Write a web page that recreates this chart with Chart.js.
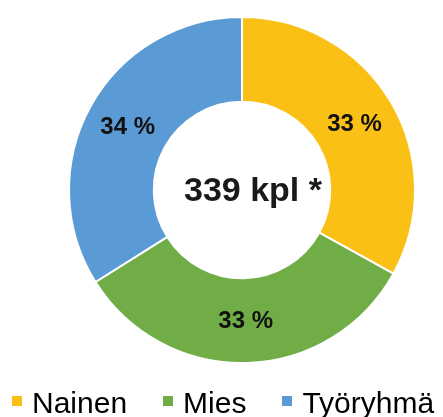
<!DOCTYPE html>
<html>
<head>
<meta charset="utf-8">
<script src="https://cdn.jsdelivr.net/npm/chart.js@4/dist/chart.umd.min.js"></script>
<style>
  html, body { margin: 0; padding: 0; background: #fff; }
  #wrap { position: relative; width: 443px; height: 417px; }
  #legend {
    position: absolute; left: 12px; top: 388px;
    display: flex; gap: 36px;
    font-family: "Liberation Sans", Arial, sans-serif; font-size: 30px; line-height: 30px; color: #000;
  }
  #legend .item { display: flex; align-items: center; }
  #legend .box { width: 10px; height: 10px; margin-right: 10px; position: relative; top: -2px; }
</style>
</head>
<body>
<div id="wrap">
  <canvas id="chart" width="443" height="417"></canvas>
  <div id="legend"></div>
</div>
<script>
// Jakauma: Nainen / Mies / Työryhmä
const labels = ['Nainen', 'Mies', 'Työryhmä'];
const counts = [112, 112, 115];
const colors = ['#FBC015', '#70AD47', '#5B9BD5'];
const total = counts.reduce((a, b) => a + b, 0);

// prosenttiluvut lohkojen keskelle + keskiteksti
const labelPlugin = {
    id: 'sliceLabels',
    afterDatasetsDraw(chart) {
        const ctx = chart.ctx;
        const meta = chart.getDatasetMeta(0);
        ctx.save();
        ctx.fillStyle = '#111';
        ctx.textAlign = 'center';
        ctx.textBaseline = 'middle';
        ctx.font = 'bold 24px "Liberation Sans", Arial, sans-serif';
        meta.data.forEach((arc, i) => {
            const p = arc.tooltipPosition();
            const pct = Math.round(counts[i] / total * 100);
            ctx.fillText(pct + ' %', p.x, p.y + 1);
        });
        const c = meta.data[0];
        ctx.fillStyle = '#1a1a1a';
        ctx.font = 'bold 34px "Liberation Sans", Arial, sans-serif';
        ctx.fillText(total + ' kpl *', c.x + 11, c.y + 2);
        ctx.restore();
    }
};

new Chart(document.getElementById('chart'), {
    type: 'doughnut',
    data: {
        labels: labels,
        datasets: [{
            data: counts,
            backgroundColor: colors,
            borderColor: '#fff',
            borderWidth: 2
        }]
    },
    options: {
        responsive: false,
        animation: false,
        radius: 173,
        cutout: '51%',
        layout: { padding: { left: 41, right: 0, top: 18, bottom: 55 } },
        plugins: {
            legend: { display: false },
            tooltip: { enabled: false }
        }
    },
    plugins: [labelPlugin]
});

// legenda
const legend = document.getElementById('legend');
labels.forEach((l, i) => {
    const item = document.createElement('div');
    item.className = 'item';
    const box = document.createElement('span');
    box.className = 'box';
    box.style.background = colors[i];
    const txt = document.createElement('span');
    txt.textContent = l;
    item.appendChild(box);
    item.appendChild(txt);
    legend.appendChild(item);
});
</script>
</body>
</html>
